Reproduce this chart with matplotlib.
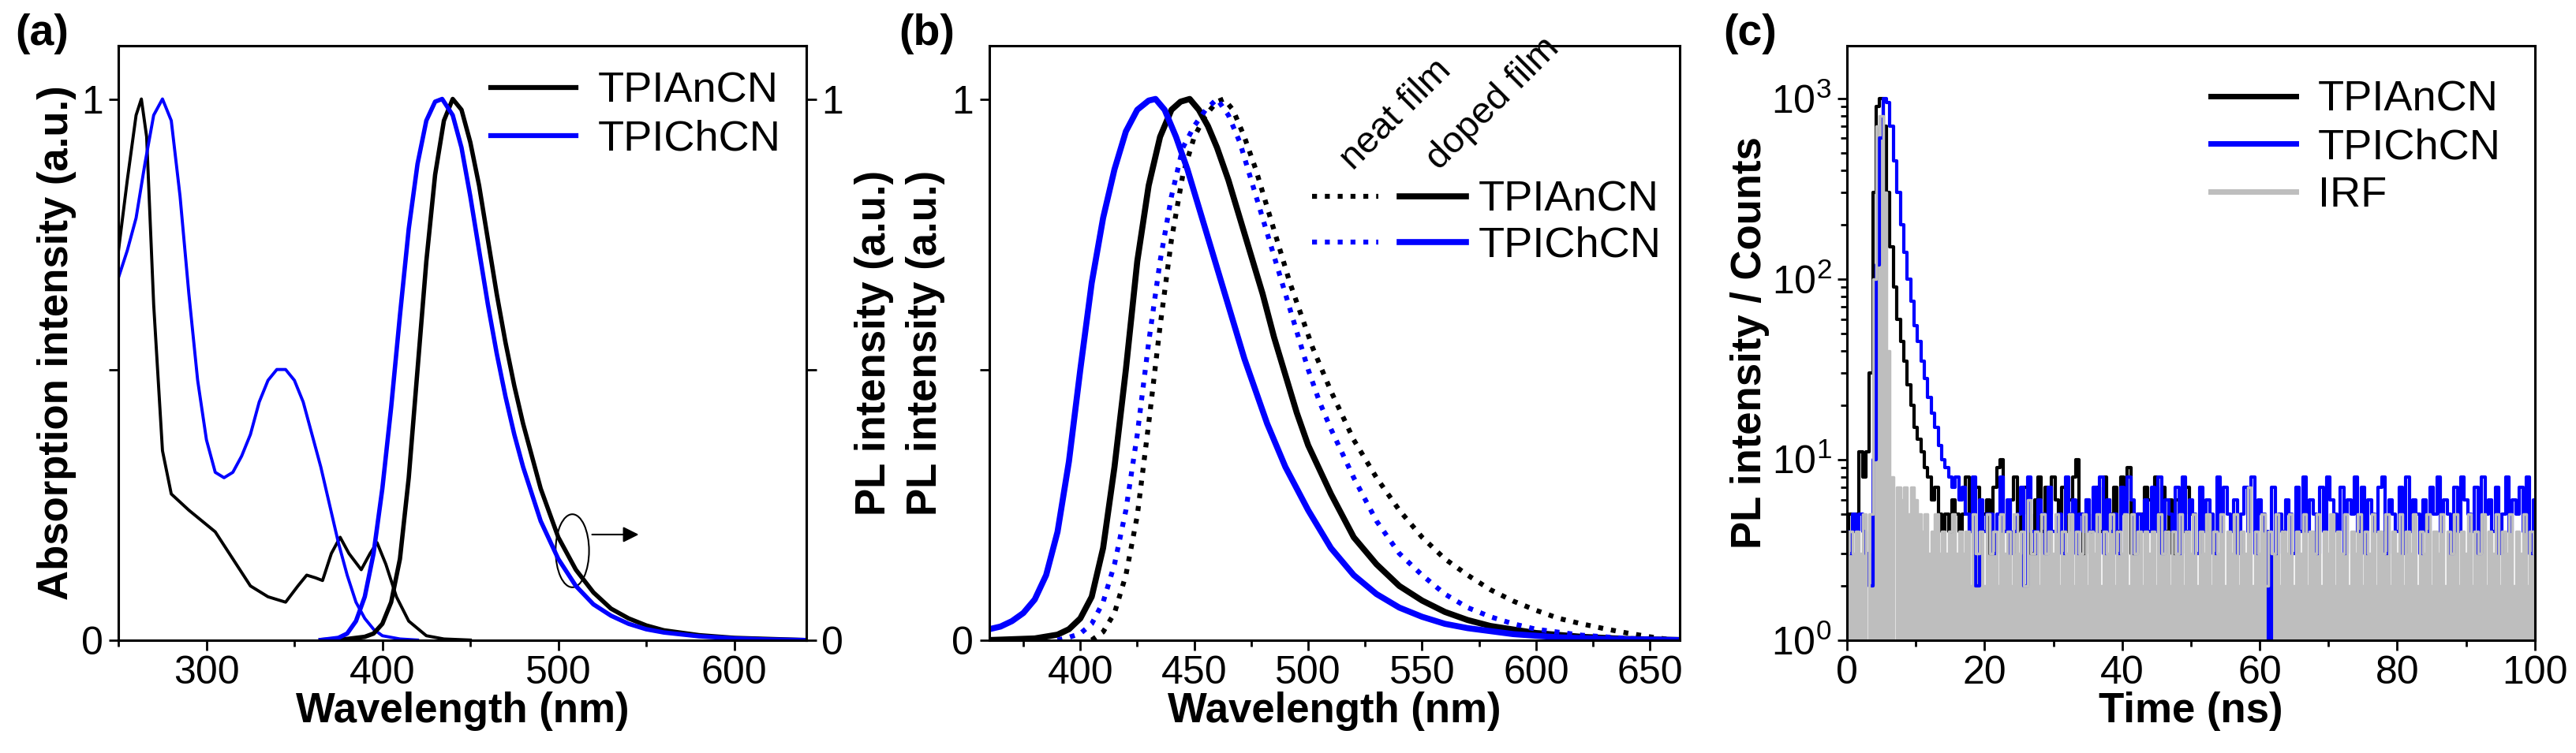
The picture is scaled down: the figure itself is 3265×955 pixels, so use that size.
import numpy as np
import matplotlib.pyplot as plt
from matplotlib.legend_handler import HandlerTuple
from matplotlib.patches import Ellipse

plt.rcParams['font.family'] = ['Liberation Sans', 'DejaVu Sans']
plt.rcParams['font.size'] = 36
plt.rcParams['axes.linewidth'] = 2.2
plt.rcParams['xtick.major.width'] = 2
plt.rcParams['ytick.major.width'] = 2
plt.rcParams['xtick.minor.width'] = 2
plt.rcParams['ytick.minor.width'] = 2
plt.rcParams['xtick.major.size'] = 9
plt.rcParams['ytick.major.size'] = 9
plt.rcParams['xtick.minor.size'] = 6
plt.rcParams['ytick.minor.size'] = 6

#%% data (a): absorption + PL in solution
absWl_An = [250, 255, 260, 263, 266, 270, 275, 280, 290, 305, 315, 325, 335, 345, 352, 357, 362, 366, 371, 376,
            381, 388, 393, 397, 402, 408, 415, 425, 435, 450]
absI_An = [0.72, 0.85, 0.97, 1.0, 0.93, 0.62, 0.35, 0.27, 0.24, 0.2, 0.15, 0.1, 0.08, 0.07, 0.1, 0.12, 0.115, 0.11,
           0.16, 0.19, 0.16, 0.13, 0.16, 0.18, 0.14, 0.08, 0.035, 0.008, 0.002, 0.0]
absWl_Ch = [250, 255, 260, 265, 270, 275, 280, 285, 290, 295, 300, 305, 310, 315, 320, 325, 330, 335, 340, 345,
            350, 355, 360, 365, 370, 375, 380, 385, 390, 395, 400, 410, 420]
absI_Ch = [0.67, 0.72, 0.78, 0.88, 0.97, 1.0, 0.96, 0.82, 0.64, 0.48, 0.37, 0.31, 0.3, 0.31, 0.34, 0.38, 0.44, 0.48,
           0.5, 0.5, 0.48, 0.44, 0.38, 0.32, 0.25, 0.18, 0.12, 0.07, 0.04, 0.02, 0.008, 0.002, 0.0]
plWl_An = [365, 380, 390, 395, 400, 405, 410, 415, 420, 425, 430, 435, 440, 445, 450, 455, 460, 465, 470, 475,
           480, 490, 500, 510, 520, 530, 540, 550, 560, 580, 600, 620, 640]
plI_An = [0.0, 0.002, 0.006, 0.012, 0.03, 0.07, 0.15, 0.3, 0.5, 0.7, 0.86, 0.96, 1.0, 0.98, 0.92, 0.84, 0.74,
          0.64, 0.55, 0.47, 0.4, 0.28, 0.19, 0.13, 0.088, 0.058, 0.04, 0.027, 0.018, 0.009, 0.004, 0.002, 0.0]
plWl_Ch = [365, 375, 380, 385, 390, 395, 400, 405, 410, 415, 420, 425, 430, 434, 440, 445, 450, 455, 460, 465,
           470, 475, 480, 490, 500, 510, 520, 530, 540, 550, 560, 580, 600, 620, 640]
plI_Ch = [0.0, 0.004, 0.012, 0.035, 0.08, 0.16, 0.28, 0.43, 0.6, 0.76, 0.88, 0.96, 0.995, 1.0, 0.97, 0.91, 0.82,
          0.72, 0.62, 0.53, 0.45, 0.38, 0.32, 0.22, 0.15, 0.1, 0.066, 0.045, 0.03, 0.02, 0.014, 0.007, 0.003, 0.001, 0.0]

#%% data (b): PL in films
wlB_An_dop = [360, 380, 390, 395, 400, 405, 410, 415, 420, 425, 430, 435, 440, 444, 448, 452, 456, 460, 465,
              470, 475, 480, 485, 490, 495, 500, 510, 520, 530, 540, 550, 560, 570, 580, 600, 620, 640, 663]
iB_An_dop = [0.0, 0.003, 0.01, 0.02, 0.04, 0.08, 0.17, 0.32, 0.5, 0.7, 0.84, 0.93, 0.98, 0.995, 1.0, 0.98, 0.95,
             0.91, 0.85, 0.78, 0.71, 0.64, 0.56, 0.49, 0.42, 0.36, 0.27, 0.19, 0.14, 0.1, 0.073, 0.052, 0.037,
             0.026, 0.013, 0.006, 0.002, 0.0]
wlB_An_neat = [405, 410, 415, 420, 425, 430, 435, 440, 445, 450, 455, 460, 463, 467, 472, 477, 482, 487, 492,
               497, 502, 510, 520, 530, 540, 550, 560, 570, 580, 590, 600, 610, 620, 630, 640, 650, 660]
iB_An_neat = [0.0, 0.015, 0.05, 0.12, 0.23, 0.4, 0.58, 0.74, 0.86, 0.93, 0.97, 0.995, 1.0, 0.98, 0.93, 0.87,
              0.8, 0.73, 0.66, 0.6, 0.54, 0.46, 0.37, 0.3, 0.24, 0.19, 0.15, 0.12, 0.093, 0.072, 0.055, 0.04,
              0.03, 0.021, 0.013, 0.006, 0.0]
wlB_Ch_dop = [360, 365, 370, 375, 380, 385, 390, 395, 400, 405, 410, 415, 420, 425, 430, 433, 437, 442, 447,
              452, 457, 462, 467, 472, 477, 482, 490, 500, 510, 520, 530, 540, 550, 560, 570, 590, 610, 630, 663]
iB_Ch_dop = [0.02, 0.025, 0.035, 0.05, 0.075, 0.12, 0.2, 0.33, 0.5, 0.66, 0.78, 0.87, 0.94, 0.98, 0.997, 1.0,
             0.98, 0.93, 0.87, 0.8, 0.73, 0.66, 0.59, 0.52, 0.46, 0.4, 0.32, 0.24, 0.17, 0.12, 0.085, 0.06,
             0.043, 0.03, 0.022, 0.011, 0.005, 0.002, 0.0]
wlB_Ch_neat = [390, 395, 400, 405, 410, 415, 420, 425, 430, 435, 440, 445, 450, 455, 460, 465, 470, 475, 480,
               485, 490, 495, 500, 505, 510, 520, 530, 540, 550, 560, 570, 580, 590, 600, 620, 640, 663]
iB_Ch_neat = [0.0, 0.005, 0.012, 0.03, 0.07, 0.14, 0.24, 0.38, 0.55, 0.7, 0.82, 0.91, 0.95, 0.98, 1.0, 0.97,
              0.92, 0.85, 0.78, 0.71, 0.64, 0.57, 0.5, 0.44, 0.39, 0.3, 0.22, 0.16, 0.12, 0.085, 0.06, 0.043,
              0.03, 0.02, 0.009, 0.003, 0.0]

#%% data (c): transient PL (counts)
t_early = [0.0, 0.5, 1.0, 1.5, 2.0, 2.5, 3.0, 3.5, 4.0, 4.5, 5.0, 5.5, 6.0, 6.5, 7.0, 7.5, 8.0, 8.5, 9.0, 9.5,
           10.0, 10.5, 11.0, 11.5, 12.0, 12.5, 13.0, 13.5, 14.0, 14.5, 15.0, 15.5, 16.0, 16.5]
cnt_An_early = [4, 5, 4, 5, 11, 8, 11, 30, 300, 900, 1000, 700, 300, 150, 90, 60, 45, 35, 26, 20, 15, 13, 11,
                9, 8, 6, 7, 5, 4, 5, 4, 6, 5, 4]
cnt_Ch_early = [4, 3, 5, 4, 5, 4, 3, 2, 10, 120, 600, 1000, 950, 700, 450, 300, 200, 140, 100, 75, 55, 45, 35,
                28, 22, 18, 15, 12, 10, 9, 8, 7, 8, 6]
cnt_IRF_early = [3, 4, 3, 4, 3, 5, 1, 5, 100, 700, 800, 300, 40, 8, 1, 7, 6, 7, 5, 7, 6, 5, 4, 5, 3, 4, 5, 3,
                 4, 3, 4, 5, 3, 4]
# digits are counts per 0.5 ns bin from 17 ns on ('0' stands for 10)
tail_An = "5846745637904568547536847586574680536457486574869345576485746365475"
tail_Ch = ("754826455358463457284365374453856354647483645375863546474836547384"
           "653746538475463574836541735465374846537486547365847365478365473846"
           "53647584653748654738564735846574836")
tail_IRF = ("342534253425342534263425343524352435243524352435253424342534243524"
            "352435243524352437243524352435243524352435243524352435243524352435"
            "24352435243524352435243524352435243")
t_tail_start = 17.0

fig = plt.figure(figsize=(32.65, 9.55), dpi=100)
axA = fig.add_axes([0.046, 0.15, 0.267, 0.789])
axB = fig.add_axes([0.384, 0.15, 0.268, 0.789])
axC = fig.add_axes([0.717, 0.15, 0.267, 0.789])
blue = '#0000FF'
lab_fs = 38

#%% (a)
axA.plot(absWl_An, absI_An, color='k', lw=2.8, label='TPIAnCN')
axA.plot(absWl_Ch, absI_Ch, color=blue, lw=2.8, label='TPIChCN')
axA2 = axA.twinx()
axA2.plot(plWl_An, plI_An, color='k', lw=4)
axA2.plot(plWl_Ch, plI_Ch, color=blue, lw=4)
for a in (axA, axA2):
    a.set_ylim(0, 1.098)
    a.set_yticks([0, 0.5, 1])
    a.set_yticklabels(['0', '', '1'])
axA.set_xlim(250, 641)
axA.set_xticks([300, 400, 500, 600])
axA.set_xticks([250, 350, 450, 550], minor=True)
axA.set_xlabel('Wavelength (nm)', fontweight='bold', fontsize=lab_fs, labelpad=0)
axA.set_ylabel('Absorption intensity (a.u.)', fontweight='bold', fontsize=lab_fs, labelpad=4)
axA2.set_ylabel('PL intensity (a.u.)', fontweight='bold', fontsize=lab_fs, labelpad=10)
lg = axA.legend(loc='upper right', frameon=False, fontsize=39, handlelength=2.0,
                borderaxespad=0.2, labelspacing=0.2, handletextpad=0.5)
for h in lg.get_lines():
    h.set_linewidth(4.5)
axA2.add_patch(Ellipse((508, 0.165), 19, 0.135, fill=False, lw=1.5, color='k'))
axA2.annotate('', xy=(547, 0.195), xytext=(518, 0.195),
              arrowprops=dict(arrowstyle='-|>', color='k', lw=1.5, mutation_scale=30))

#%% (b)
nA, = axB.plot(wlB_An_neat, iB_An_neat, color='k', lw=4.5, ls=(0, (1.0, 1.6)))
dA, = axB.plot(wlB_An_dop, iB_An_dop, color='k', lw=5.5)
nC, = axB.plot(wlB_Ch_neat, iB_Ch_neat, color=blue, lw=4.5, ls=(0, (1.0, 1.6)))
dC, = axB.plot(wlB_Ch_dop, iB_Ch_dop, color=blue, lw=5.5)
axB.set_xlim(360, 663)
axB.set_ylim(0, 1.098)
axB.set_yticks([0, 0.5, 1])
axB.set_yticklabels(['0', '', '1'])
axB.set_xticks([400, 450, 500, 550, 600, 650])
axB.set_xticks([375, 425, 475, 525, 575, 625], minor=True)
axB.set_xlabel('Wavelength (nm)', fontweight='bold', fontsize=lab_fs, labelpad=0)
axB.set_ylabel('PL intensity (a.u.)', fontweight='bold', fontsize=lab_fs, labelpad=6)
axB.legend([(nA, dA), (nC, dC)], ['TPIAnCN', 'TPIChCN'], loc='upper right',
           bbox_to_anchor=(1.005, 0.81), frameon=False, fontsize=39, handlelength=3.6,
           handler_map={tuple: HandlerTuple(ndivide=None, pad=0.5)}, borderaxespad=0.1,
           labelspacing=0.15, handletextpad=0.3)
axB.text(0.535, 0.78, 'neat film', transform=axB.transAxes, rotation=45, fontsize=34,
         ha='left', va='bottom', rotation_mode='anchor')
axB.text(0.66, 0.78, 'doped film', transform=axB.transAxes, rotation=45, fontsize=34,
         ha='left', va='bottom', rotation_mode='anchor')

#%% (c)
def series(early, tail):
    vals = early + [int(ch) if ch != '0' else 10 for ch in tail]
    tt = t_early + list(t_tail_start + 0.5 * np.arange(len(tail)))
    return np.array(tt), np.array(vals, dtype=float)

tA, cA = series(cnt_An_early, tail_An)
tC, cC = series(cnt_Ch_early, tail_Ch)
tI, cI = series(cnt_IRF_early, tail_IRF)
axC.plot(tA, cA, color='k', lw=3, drawstyle='steps-mid', label='TPIAnCN')
axC.plot(tC, cC, color=blue, lw=3, drawstyle='steps-mid', label='TPIChCN')
axC.fill_between(tI, 1, cI, step='mid', color='#BEBEBE', lw=0)
axC.plot(tI, cI, color='#BEBEBE', lw=2.5, drawstyle='steps-mid', label='IRF')
axC.set_yscale('log')
axC.set_ylim(1, 1950)
axC.set_xlim(0, 100)
axC.set_xticks([0, 20, 40, 60, 80, 100])
axC.set_xticks([10, 30, 50, 70, 90], minor=True)
axC.set_xlabel('Time (ns)', fontweight='bold', fontsize=lab_fs, labelpad=0)
axC.set_ylabel('PL intensity / Counts', fontweight='bold', fontsize=lab_fs, labelpad=2)
lg = axC.legend(loc='upper right', frameon=False, fontsize=39, handlelength=2.0,
                borderaxespad=0.4, labelspacing=0.2, handletextpad=0.5)
for h in lg.get_lines():
    h.set_linewidth(5)

for a in (axA, axA2, axB, axC):
    a.tick_params(direction='out', which='both', labelsize=36, pad=5)

fig.text(0.006, 0.955, '(a)', fontsize=40, fontweight='bold', va='center')
fig.text(0.349, 0.955, '(b)', fontsize=40, fontweight='bold', va='center')
fig.text(0.669, 0.955, '(c)', fontsize=40, fontweight='bold', va='center')

fig.savefig('out.png', dpi=100)
